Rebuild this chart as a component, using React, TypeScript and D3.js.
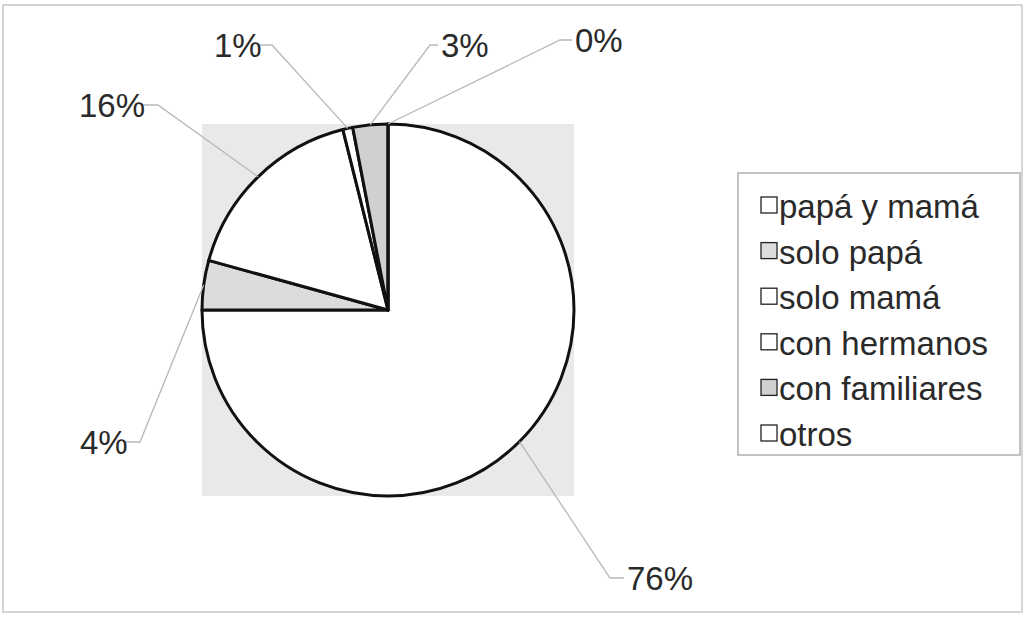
import React from "react";
import * as d3 from "d3";

const categories = ["papá y mamá", "solo papá", "solo mamá", "con hermanos", "con familiares", "otros"];
const values = [75.0, 4.3, 16.8, 0.86, 3.04, 0.0];
const pctLabels = ["76%", "4%", "16%", "1%", "3%", "0%"];
const fills = ["#ffffff", "#dcdcdc", "#ffffff", "#ffffff", "#d0d0d0", "#ffffff"];
// label anchor positions (text left x, text baseline y)
const labelAnchors: [number, number][] = [
  [627, 590],
  [80, 454],
  [79, 117],
  [214, 57],
  [441, 57],
  [575, 52],
];
// elbow points of leader lines
const elbows: [number, number][] = [
  [610, 578],
  [140, 442],
  [158, 105],
  [272, 45],
  [430, 45],
  [560, 40],
];
const labelWidths = [70, 44, 64, 46, 46, 46];

const W = 1025;
const H = 617;
const cx = 388;
const cy = 310;
const R = 186;

export default function App() {
  const pie = d3
    .pie<number>()
    .sort(null)
    .startAngle(0)
    .endAngle(2 * Math.PI)
    .value((d) => d);
  const arcs = pie(values);
  const arcGen = d3.arc<d3.PieArcDatum<number>>().innerRadius(0).outerRadius(R);
  const font = "Arial, 'Liberation Sans', sans-serif";

  const legX = 738;
  const legY = 173;
  const legW = 282;
  const legH = 282;
  const rowY = d3.scalePoint<string>().domain(categories).range([legY + 33, legY + 261]);

  return (
    <svg
      width={W}
      height={H}
      style={{ position: "absolute", left: 0, top: 0, background: "#fff" }}
    >
      <rect x={3} y={5} width={1019} height={607} fill="#fff" stroke="#c8c8c8" strokeWidth={1.5} />
      <rect x={cx - R} y={cy - R} width={2 * R} height={2 * R} fill="#e9e9e9" />
      <g transform={`translate(${cx},${cy})`}>
        {arcs.map((a, i) => (
          <path key={i} d={arcGen(a) || ""} fill={fills[i]} stroke="#111" strokeWidth={3} strokeLinejoin="round" />
        ))}
      </g>
      {arcs.map((a, i) => {
        const mid = (a.startAngle + a.endAngle) / 2;
        const px = cx + R * Math.sin(mid);
        const py = cy - R * Math.cos(mid);
        const [ex, ey] = elbows[i];
        const [tx, ty] = labelAnchors[i];
        const leftSide = tx < ex;
        const hx = leftSide ? tx + labelWidths[i] : tx - 3;
        return (
          <g key={i}>
            <polyline
              points={`${px},${py} ${ex},${ey} ${hx},${ey}`}
              fill="none"
              stroke="#b8b8b8"
              strokeWidth={1.3}
            />
            <text x={tx} y={ty} fontFamily={font} fontSize={33} fill="#2a2a2a">
              {pctLabels[i]}
            </text>
          </g>
        );
      })}
      <rect x={legX} y={legY} width={legW} height={legH} fill="#fff" stroke="#b0b0b0" strokeWidth={1.5} />
      {categories.map((c, i) => {
        const y = rowY(c) || 0;
        return (
          <g key={c}>
            <rect x={legX + 23} y={y - 9} width={16} height={16} fill={fills[i]} stroke="#222" strokeWidth={1.3} />
            <text x={legX + 41} y={y + 12} fontFamily={font} fontSize={33} fill="#2a2a2a">
              {c}
            </text>
          </g>
        );
      })}
    </svg>
  );
}
